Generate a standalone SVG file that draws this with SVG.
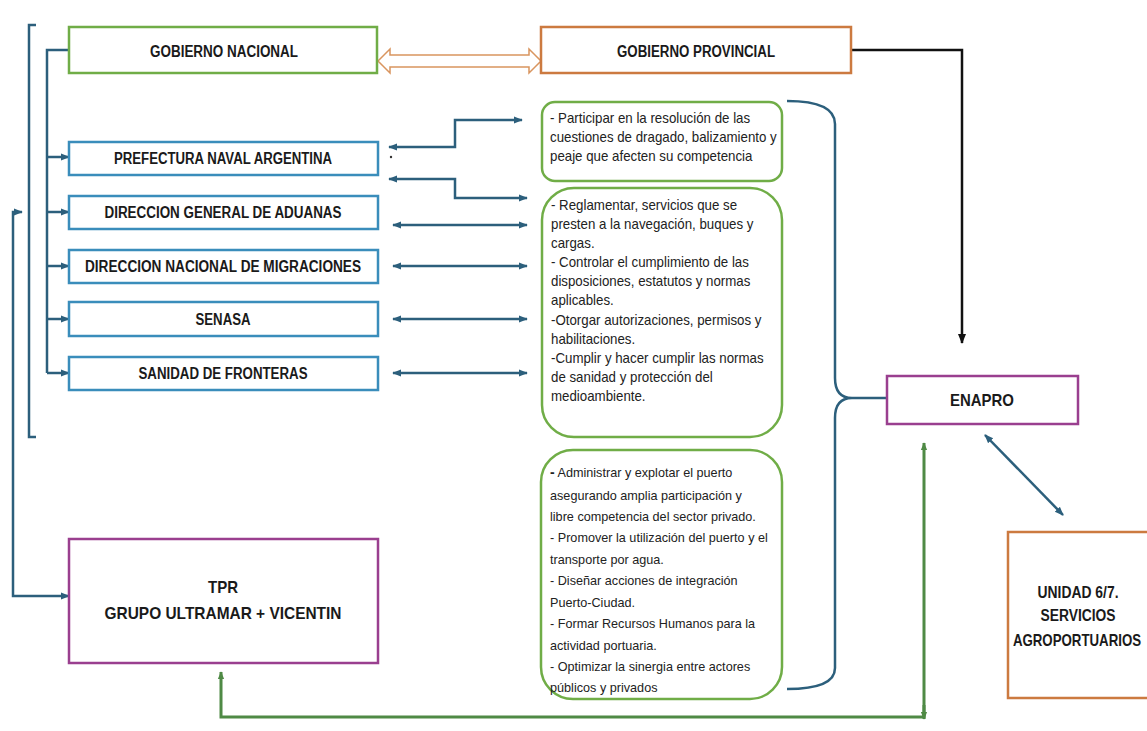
<svg xmlns="http://www.w3.org/2000/svg" width="1147" height="731" viewBox="0 0 1147 731">
<style>
.bg{fill:#ffffff}
.lbl{font-family:"Liberation Sans",Arial,sans-serif;font-weight:bold;fill:#1a1a1a;text-anchor:middle}
.body{font-family:"Liberation Sans",Arial,sans-serif;fill:#222222}
.gbox{fill:#ffffff;stroke:#70ad47;stroke-width:2.5}
.bbox{fill:#ffffff;stroke:#3a8dbb;stroke-width:2.5}
.obox{fill:#ffffff;stroke:#cc7a40;stroke-width:2.5}
.pbox{fill:#ffffff;stroke:#9a3f8f;stroke-width:2.5}
.tl{fill:none;stroke:#2c5f7c;stroke-width:2.5}
.gl{fill:none;stroke:#4f8a45;stroke-width:3}
.kl{fill:none;stroke:#111111;stroke-width:2.5}
</style>
<defs>
<marker id="at" viewBox="0 0 10 10" refX="9" refY="5" markerWidth="9" markerHeight="9" markerUnits="userSpaceOnUse" orient="auto-start-reverse"><path d="M0,1 L10,5 L0,9 z" fill="#2c5f7c"/></marker>
<marker id="ak" viewBox="0 0 10 10" refX="9" refY="5" markerWidth="10" markerHeight="10" markerUnits="userSpaceOnUse" orient="auto-start-reverse"><path d="M0,1 L10,5 L0,9 z" fill="#111111"/></marker>
<marker id="ag" viewBox="0 0 10 10" refX="9" refY="5" markerWidth="8" markerHeight="8" markerUnits="userSpaceOnUse" orient="auto-start-reverse"><path d="M0,1 L10,5 L0,9 z" fill="#4f8a45"/></marker>
</defs>
<rect class="bg" x="0" y="0" width="1147" height="731"/>

<g id="connectors">
  <path class="tl" d="M36 25 L29 25 L29 437 L36 437"/>
  <path class="tl" d="M69 50 L47 50 L47 373"/>
  <path class="tl" d="M47 157 L69 157" marker-end="url(#at)"/>
  <path class="tl" d="M47 212 L69 212" marker-end="url(#at)"/>
  <path class="tl" d="M47 266 L69 266" marker-end="url(#at)"/>
  <path class="tl" d="M47 319 L69 319" marker-end="url(#at)"/>
  <path class="tl" d="M47 373 L69 373" marker-end="url(#at)"/>
  <path class="tl" d="M22 212 L13 212 L13 596 L69 596" marker-start="url(#at)" marker-end="url(#at)"/>
  <path class="tl" d="M389 147 L455 147 L455 120 L522 120" marker-start="url(#at)" marker-end="url(#at)"/>
  <path class="tl" d="M389 179 L455 179 L455 198 L527 198" marker-start="url(#at)" marker-end="url(#at)"/>
  <circle cx="391" cy="157" r="1.2" fill="#333333"/>
  <path class="tl" d="M393 225 L527 225" marker-start="url(#at)" marker-end="url(#at)"/>
  <path class="tl" d="M393 266 L527 266" marker-start="url(#at)" marker-end="url(#at)"/>
  <path class="tl" d="M393 319 L527 319" marker-start="url(#at)" marker-end="url(#at)"/>
  <path class="tl" d="M393 373 L527 373" marker-start="url(#at)" marker-end="url(#at)"/>
  <polygon points="378,61 390,49 390,55 529,55 529,49 541,61 529,73 529,67 390,67 390,73" fill="#ffffff" stroke="#d9955f" stroke-width="1.5"/>
  <path class="kl" d="M851 50 L962 50 L962 343" marker-end="url(#ak)"/>
  <path class="tl" d="M787 101 Q835 101 835 124 L835 378 Q835 398 852 398 Q835 398 835 418 L835 668 Q835 689 787 689"/>
  <path class="tl" d="M852 398 L887 398"/>
  <path class="tl" d="M985 435 L1063 515" marker-start="url(#at)" marker-end="url(#at)"/>
  <path class="gl" d="M221 672 L221 717 L924 717 L924 443" marker-start="url(#ag)" marker-end="url(#ag)"/>
  <path class="gl" d="M924 705 L924 719" marker-end="url(#ag)"/>
</g>

<g id="gobierno-nacional">
  <rect class="gbox" x="69" y="27" width="308" height="46"/>
  <text class="lbl" x="224" y="57" font-size="16" textLength="148" lengthAdjust="spacingAndGlyphs">GOBIERNO NACIONAL</text>
</g>
<g id="gobierno-provincial">
  <rect class="obox" x="541" y="27" width="310" height="46"/>
  <text class="lbl" x="696" y="57" font-size="16" textLength="158" lengthAdjust="spacingAndGlyphs">GOBIERNO PROVINCIAL</text>
</g>

<g id="prefectura">
  <rect class="bbox" x="69" y="142" width="309" height="33"/>
  <text class="lbl" x="223" y="164" font-size="16" textLength="218" lengthAdjust="spacingAndGlyphs">PREFECTURA NAVAL ARGENTINA</text>
</g>
<g id="aduanas">
  <rect class="bbox" x="69" y="196" width="309" height="33"/>
  <text class="lbl" x="223" y="218" font-size="16" textLength="237" lengthAdjust="spacingAndGlyphs">DIRECCION GENERAL DE ADUANAS</text>
</g>
<g id="migraciones">
  <rect class="bbox" x="69" y="250" width="309" height="33"/>
  <text class="lbl" x="223" y="272" font-size="16" textLength="276" lengthAdjust="spacingAndGlyphs">DIRECCION NACIONAL DE MIGRACIONES</text>
</g>
<g id="senasa">
  <rect class="bbox" x="69" y="302" width="309" height="34"/>
  <text class="lbl" x="223" y="325" font-size="16" textLength="55" lengthAdjust="spacingAndGlyphs">SENASA</text>
</g>
<g id="sanidad">
  <rect class="bbox" x="69" y="357" width="309" height="33"/>
  <text class="lbl" x="223" y="379" font-size="16" textLength="169" lengthAdjust="spacingAndGlyphs">SANIDAD DE FRONTERAS</text>
</g>

<g id="tpr">
  <rect class="pbox" x="69" y="539" width="309" height="124"/>
  <text class="lbl" x="223" y="593" font-size="17" textLength="30" lengthAdjust="spacingAndGlyphs">TPR</text>
  <text class="lbl" x="223" y="619" font-size="17" textLength="237" lengthAdjust="spacingAndGlyphs">GRUPO ULTRAMAR + VICENTIN</text>
</g>

<g id="funciones-1">
  <rect class="gbox" x="542" y="102" width="240" height="79" rx="13"/>
  <g transform="translate(550 0) scale(0.95 1)">
    <text class="body" font-size="14" x="0" y="123">- Participar en la resolución de las</text>
    <text class="body" font-size="14" x="0" y="142">cuestiones de dragado, balizamiento y</text>
    <text class="body" font-size="14" x="0" y="161">peaje que afecten su competencia</text>
  </g>
</g>

<g id="funciones-2">
  <rect class="gbox" x="542" y="188" width="240" height="249" rx="32"/>
  <g transform="translate(551 0) scale(0.95 1)">
    <text class="body" font-size="14" x="0" y="210">- Reglamentar, servicios que se</text>
    <text class="body" font-size="14" x="0" y="229">presten a la navegación, buques y</text>
    <text class="body" font-size="14" x="0" y="248">cargas.</text>
    <text class="body" font-size="14" x="0" y="267">- Controlar el cumplimiento de las</text>
    <text class="body" font-size="14" x="0" y="286">disposiciones, estatutos y normas</text>
    <text class="body" font-size="14" x="0" y="305">aplicables.</text>
    <text class="body" font-size="14" x="0" y="325">-Otorgar autorizaciones, permisos y</text>
    <text class="body" font-size="14" x="0" y="344">habilitaciones.</text>
    <text class="body" font-size="14" x="0" y="363">-Cumplir y hacer cumplir las normas</text>
    <text class="body" font-size="14" x="0" y="382">de sanidad y protección del</text>
    <text class="body" font-size="14" x="0" y="401">medioambiente.</text>
  </g>
</g>

<g id="funciones-3">
  <rect class="gbox" x="541" y="450" width="241" height="249" rx="32"/>
  <g transform="translate(550 0) scale(0.93 1)">
    <text class="body" font-size="13.6" x="0" y="477"><tspan font-weight="bold" font-size="15">-</tspan>  Administrar y explotar el puerto</text>
    <text class="body" font-size="13.6" x="0" y="500">asegurando amplia participación y</text>
    <text class="body" font-size="13.6" x="0" y="521">libre competencia del sector privado.</text>
    <text class="body" font-size="13.6" x="0" y="542">- Promover la utilización del puerto y el</text>
    <text class="body" font-size="13.6" x="0" y="564">transporte por agua.</text>
    <text class="body" font-size="13.6" x="0" y="585">-  Diseñar acciones de integración</text>
    <text class="body" font-size="13.6" x="0" y="607">Puerto-Ciudad.</text>
    <text class="body" font-size="13.6" x="0" y="628">- Formar Recursos Humanos para la</text>
    <text class="body" font-size="13.6" x="0" y="650">actividad portuaria.</text>
    <text class="body" font-size="13.6" x="0" y="671">- Optimizar la sinergia entre actores</text>
    <text class="body" font-size="13.6" x="0" y="692">públicos y privados</text>
  </g>
</g>

<g id="enapro">
  <rect class="pbox" x="887" y="376" width="191" height="48"/>
  <text class="lbl" x="982" y="406" font-size="17" textLength="64" lengthAdjust="spacingAndGlyphs">ENAPRO</text>
</g>

<g id="unidad">
  <path d="M1147 532 H1008 V698 H1147" fill="#ffffff" stroke="#cc7a40" stroke-width="2.5"/>
  <text class="lbl" x="1078" y="598" font-size="16" textLength="81" lengthAdjust="spacingAndGlyphs">UNIDAD 6/7.</text>
  <text class="lbl" x="1078" y="621" font-size="16" textLength="75" lengthAdjust="spacingAndGlyphs">SERVICIOS</text>
  <g transform="translate(1077 646) scale(0.83 1)">
    <text class="lbl" x="0" y="0" font-size="16">AGROPORTUARIOS</text>
  </g>
</g>
</svg>
